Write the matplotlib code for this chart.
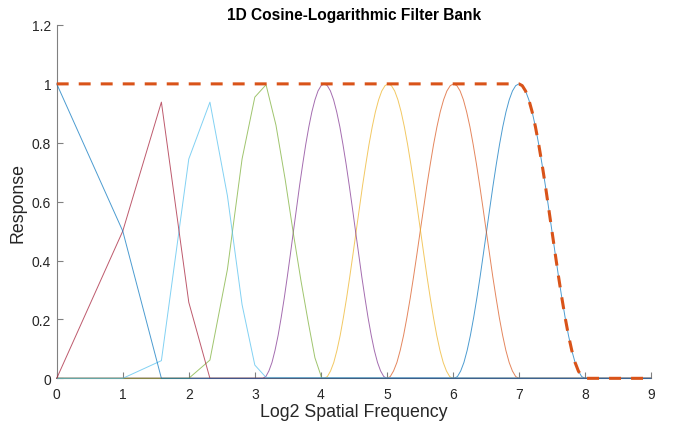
import matplotlib
matplotlib.use("Agg")
import matplotlib.pyplot as plt

plt.rcParams['font.family'] = ['Liberation Sans', 'DejaVu Sans']

# sample positions (log2 spatial frequency) and responses
# low-frequency filters are coarsely sampled
x_f0 = [0, 1, 1.585, 9]
y_f0 = [1, 0.5, 0, 0]

x_f1 = [0, 1, 1.585, 2, 2.32, 9]
y_f1 = [0, 0.5, 0.938, 0.258, 0, 0]

x_f2 = [0, 1, 1.585, 2, 2.32, 2.585, 2.807, 3, 3.17, 9]
y_f2 = [0, 0, 0.06, 0.745, 0.938, 0.62, 0.25, 0.045, 0.003, 0]

x_f3 = [0, 2, 2.32, 2.585, 2.807, 3, 3.17, 3.32, 3.46, 3.585, 3.70, 3.81, 3.91, 4.0, 4.01, 9]
y_f3 = [0, 0, 0.062, 0.37, 0.745, 0.955, 0.997, 0.86, 0.675, 0.49, 0.33, 0.19, 0.07, 0.01, 0, 0]

# higher filters are densely sampled (smooth bumps)
x_f4 = [0, 3.0,
        3.120, 3.167, 3.213, 3.260, 3.306, 3.353, 3.399, 3.446, 3.492, 3.539, 3.585,
        3.632, 3.678, 3.725, 3.771, 3.818, 3.864, 3.911, 3.957, 4.004, 4.050,
        4.098, 4.145, 4.193, 4.240, 4.288, 4.335, 4.383, 4.430, 4.478, 4.525,
        4.573, 4.620, 4.668, 4.715, 4.763, 4.810, 4.858, 4.905, 4.953, 5.000, 9]
y_f4 = [0, 0,
        0, 0.006, 0.025, 0.054, 0.095, 0.146, 0.206, 0.273, 0.345, 0.422, 0.5,
        0.578, 0.655, 0.727, 0.794, 0.854, 0.905, 0.946, 0.976, 0.994, 1,
        0.994, 0.976, 0.946, 0.905, 0.854, 0.794, 0.727, 0.655, 0.578, 0.5,
        0.422, 0.345, 0.273, 0.206, 0.146, 0.095, 0.054, 0.025, 0.006, 0, 0]

x_f5 = [0,
        4.050, 4.099, 4.147, 4.196, 4.244, 4.293, 4.341, 4.390, 4.438, 4.487, 4.535,
        4.584, 4.632, 4.681, 4.729, 4.778, 4.826, 4.875, 4.923, 4.972, 5.020,
        5.069, 5.118, 5.167, 5.216, 5.265, 5.314, 5.363, 5.412, 5.461, 5.510,
        5.559, 5.608, 5.657, 5.706, 5.755, 5.804, 5.853, 5.902, 5.951, 6.000, 9]
y_f5 = [0,
        0, 0.006, 0.025, 0.054, 0.095, 0.146, 0.206, 0.273, 0.345, 0.422, 0.5,
        0.578, 0.655, 0.727, 0.794, 0.854, 0.905, 0.946, 0.976, 0.994, 1,
        0.994, 0.976, 0.946, 0.905, 0.854, 0.794, 0.727, 0.655, 0.578, 0.5,
        0.422, 0.345, 0.273, 0.206, 0.146, 0.095, 0.054, 0.025, 0.006, 0, 0]

x_f6 = [0,
        5.000, 5.051, 5.101, 5.152, 5.202, 5.253, 5.303, 5.354, 5.404, 5.455, 5.505,
        5.556, 5.606, 5.657, 5.707, 5.758, 5.808, 5.859, 5.909, 5.960, 6.010,
        6.060, 6.109, 6.159, 6.208, 6.258, 6.307, 6.357, 6.406, 6.456, 6.505,
        6.555, 6.604, 6.654, 6.703, 6.753, 6.802, 6.852, 6.901, 6.951, 7.000, 9]
y_f6 = [0,
        0, 0.006, 0.025, 0.054, 0.095, 0.146, 0.206, 0.273, 0.345, 0.422, 0.5,
        0.578, 0.655, 0.727, 0.794, 0.854, 0.905, 0.946, 0.976, 0.994, 1,
        0.994, 0.976, 0.946, 0.905, 0.854, 0.794, 0.727, 0.655, 0.578, 0.5,
        0.422, 0.345, 0.273, 0.206, 0.146, 0.095, 0.054, 0.025, 0.006, 0, 0]

x_f7 = [0,
        6.020, 6.069, 6.118, 6.167, 6.216, 6.265, 6.314, 6.363, 6.412, 6.461, 6.510,
        6.559, 6.608, 6.657, 6.706, 6.755, 6.804, 6.853, 6.902, 6.951, 7.000,
        7.05, 7.10, 7.15, 7.20, 7.25, 7.30, 7.35, 7.40, 7.45, 7.50,
        7.55, 7.60, 7.65, 7.70, 7.75, 7.80, 7.85, 7.90, 7.95, 8.00, 9]
y_f7 = [0,
        0, 0.006, 0.025, 0.054, 0.095, 0.146, 0.206, 0.273, 0.345, 0.422, 0.5,
        0.578, 0.655, 0.727, 0.794, 0.854, 0.905, 0.946, 0.976, 0.994, 1,
        0.994, 0.976, 0.946, 0.905, 0.854, 0.794, 0.727, 0.655, 0.578, 0.5,
        0.422, 0.345, 0.273, 0.206, 0.146, 0.095, 0.054, 0.025, 0.006, 0, 0]

# summed response of the whole bank
x_sum = [0, 7.00, 7.05, 7.10, 7.15, 7.20, 7.25, 7.30, 7.35, 7.40, 7.45, 7.50,
         7.55, 7.60, 7.65, 7.70, 7.75, 7.80, 7.85, 7.90, 7.95, 8.00, 9]
y_sum = [1, 1, 0.994, 0.976, 0.946, 0.905, 0.854, 0.794, 0.727, 0.655, 0.578, 0.5,
         0.422, 0.345, 0.273, 0.206, 0.146, 0.095, 0.054, 0.025, 0.006, 0, 0]

# filters drawn from highest to lowest, MATLAB colour order
filters = [(x_f7, y_f7), (x_f6, y_f6), (x_f5, y_f5), (x_f4, y_f4),
           (x_f3, y_f3), (x_f2, y_f2), (x_f1, y_f1), (x_f0, y_f0)]
colors = ['#0072BD', '#D95319', '#EDB120', '#7E2F8E',
          '#77AC30', '#4DBEEE', '#A2142F', '#0072BD']

fig = plt.figure(figsize=(6.73, 4.31), dpi=100)
ax = fig.add_axes([0.0843, 0.1199, 0.8830, 0.8198])

for (xs, ys), c in zip(filters, colors):
    ax.plot(xs, ys, color=c, lw=0.7, alpha=0.7, clip_on=False, zorder=3)

ax.plot(x_sum, y_sum, color='#D95319', lw=2.2, linestyle=(0, (3.9, 3.3)),
        clip_on=False, zorder=4)

ax.set_xlim(0, 9)
ax.set_ylim(0, 1.2)
ax.set_xticks(range(10))
ax.set_yticks([0, 0.2, 0.4, 0.6, 0.8, 1, 1.2])
ax.set_yticklabels(['0', '0.2', '0.4', '0.6', '0.8', '1', '1.2'])

for s in ['top', 'right']:
    ax.spines[s].set_visible(False)
for s in ['left', 'bottom']:
    ax.spines[s].set_color('#808080')
    ax.spines[s].set_linewidth(0.8)
ax.tick_params(direction='in', length=4, width=0.8, color='#808080',
               labelcolor='#262626', labelsize=10)
ax.tick_params(axis='x', pad=6)
ax.tick_params(axis='y', pad=4)

ax.set_xlabel('Log2 Spatial Frequency', fontsize=12.8, color='#262626', labelpad=2)
ax.set_ylabel('Response', fontsize=12.8, color='#262626', labelpad=4)
ax.set_title('1D Cosine-Logarithmic Filter Bank', fontsize=11.2, fontweight='bold', pad=4)

fig.savefig('out.png', dpi=100)
